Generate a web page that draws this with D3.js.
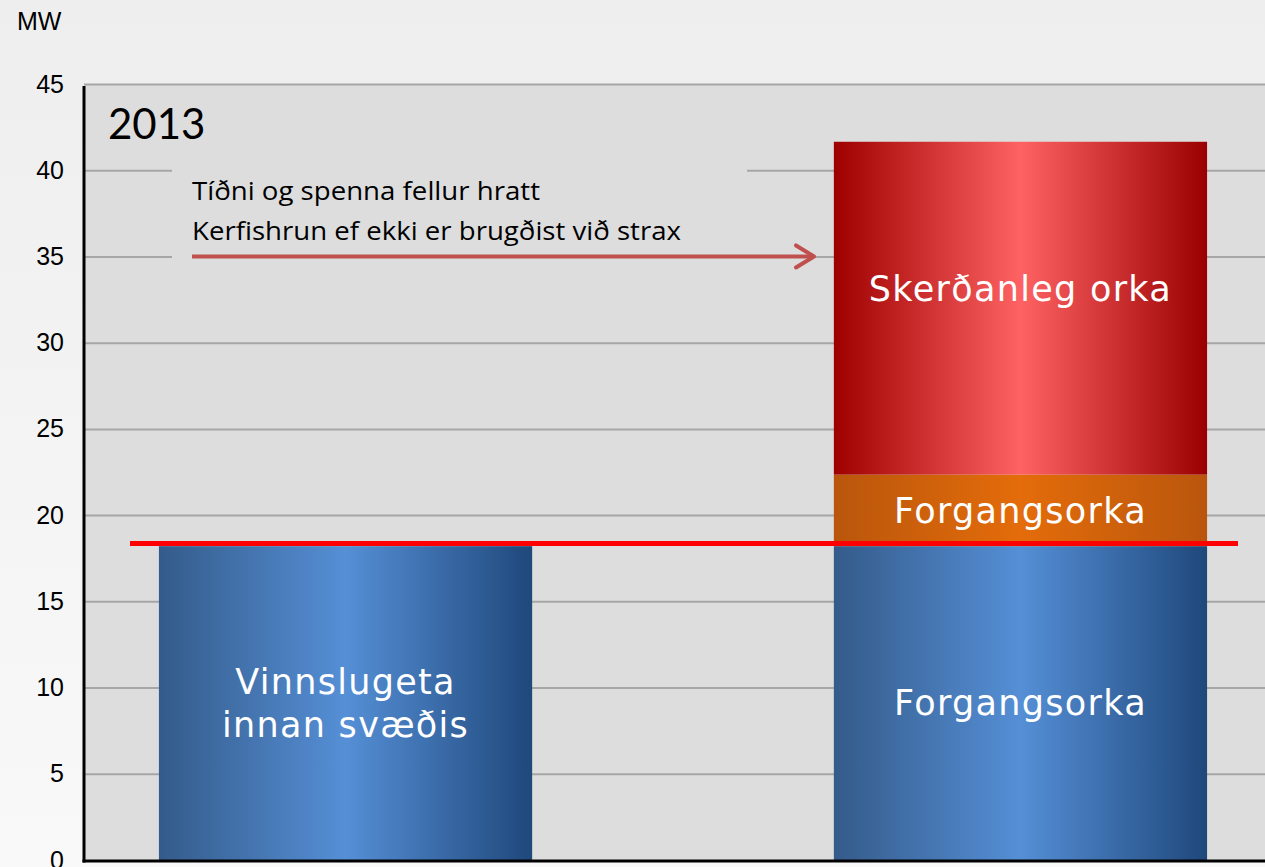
<!DOCTYPE html>
<html>
<head>
<meta charset="utf-8">
<script src="https://d3js.org/d3.v7.min.js"></script>
<style>
  body { margin: 0; overflow: hidden; }
</style>
</head>
<body>
<script>
// data
var categories = ["Vinnslugeta", "Álag"];
var yTicks = [0, 5, 10, 15, 20, 25, 30, 35, 40, 45];
var segCategory = ["Vinnslugeta", "Álag", "Álag", "Álag"];
var segValues = [18.2, 18.2, 4.15, 19.3];
var segLabels = [["Vinnslugeta", "innan svæðis"], ["Forgangsorka"], ["Forgangsorka"], ["Skerðanleg orka"]];
var segColors = ["blue", "blue", "orange", "red"];
var limitValue = 18.35;
var yearLabel = "2013";
var noteLines = ["Tíðni og spenna fellur hratt", "Kerfishrun ef ekki er brugðist við strax"];

var W = 1265, H = 867;
var margin = { top: 84, left: 84, bottom: 7 };

var svg = d3.select("body").append("svg").attr("width", W).attr("height", H);
var defs = svg.append("defs");

var bgGrad = defs.append("linearGradient").attr("id", "bg").attr("x1", 0).attr("y1", 0).attr("x2", 0).attr("y2", 1);
bgGrad.append("stop").attr("offset", "0%").attr("stop-color", "#eeeeee");
bgGrad.append("stop").attr("offset", "100%").attr("stop-color", "#f9f9f9");

var grads = {
  blue: ["#345b8a", "#558fd6", "#1f487b"],
  orange: ["#b9560c", "#e46c0a", "#b9560d"],
  red: ["#9e0000", "#ff6262", "#9b0000"]
};
Object.keys(grads).forEach(function (k) {
  var g = defs.append("linearGradient").attr("id", "g_" + k).attr("x1", 0).attr("x2", 1).attr("y1", 0).attr("y2", 0);
  g.append("stop").attr("offset", "0%").attr("stop-color", grads[k][0]);
  g.append("stop").attr("offset", "50%").attr("stop-color", grads[k][1]);
  g.append("stop").attr("offset", "100%").attr("stop-color", grads[k][2]);
});

svg.append("rect").attr("width", W).attr("height", H).attr("fill", "url(#bg)");

var y = d3.scaleLinear().domain([0, 45]).range([860, margin.top]);
var x = d3.scaleBand().domain(categories).range([margin.left, 1282])
  .paddingInner(0.447).paddingOuter(0.111);

// plot area
svg.append("rect").attr("x", margin.left).attr("y", y(45))
  .attr("width", W - margin.left).attr("height", y(0) - y(45)).attr("fill", "#dddddd");

// gridlines
var grid = svg.append("g").attr("transform", "translate(" + margin.left + ",0)")
  .call(d3.axisLeft(y).tickValues(yTicks.slice(1)).tickSize(-(W - margin.left)).tickFormat(""));
grid.select(".domain").remove();
grid.selectAll("line").attr("stroke", "#a6a6a6").attr("stroke-width", 2);

// tick labels
var ax = svg.append("g").attr("transform", "translate(" + margin.left + ",0)")
  .call(d3.axisLeft(y).tickValues(yTicks).tickSize(0).tickPadding(20));
ax.select(".domain").remove();
ax.selectAll("text").attr("font-family", "Liberation Sans, Arial, sans-serif")
  .attr("font-size", 25).attr("fill", "#000");

svg.append("text").attr("x", 17).attr("y", 30).text("MW")
  .attr("font-family", "Liberation Sans, Arial, sans-serif").attr("font-size", 25);

// annotation box hides the gridlines behind it
svg.append("rect").attr("x", 172).attr("y", 160).attr("width", 575).attr("height", 106).attr("fill", "#dddddd");

// stacked bars
var stackBase = {};
var segs = segValues.map(function (v, i) {
  var c = segCategory[i];
  var b = stackBase[c] || 0;
  stackBase[c] = b + v;
  return { cat: c, y0: b, y1: b + v, label: segLabels[i], color: segColors[i] };
});

svg.selectAll("rect.bar").data(segs).enter().append("rect").attr("class", "bar")
  .attr("x", function (d) { return x(d.cat); })
  .attr("width", x.bandwidth())
  .attr("y", function (d) { return y(d.y1); })
  .attr("height", function (d) { return y(d.y0) - y(d.y1); })
  .attr("fill", function (d) { return "url(#g_" + d.color + ")"; });

var labs = svg.selectAll("text.seg").data(segs).enter().append("text").attr("class", "seg")
  .attr("text-anchor", "middle")
  .attr("font-family", "DejaVu Sans, Verdana, sans-serif")
  .attr("font-size", 35).attr("fill", "#ffffff").attr("letter-spacing", 1.3)
  .attr("transform", function (d) {
    var cy = (y(d.y0) + y(d.y1)) / 2;
    if (d.color === "red") cy -= 19;
    cy -= (d.label.length - 1) * 21.5;
    return "translate(" + (x(d.cat) + x.bandwidth() / 2) + "," + cy + ")";
  });
labs.selectAll("tspan").data(function (d) { return d.label; }).enter().append("tspan")
  .attr("x", 0).attr("dy", function (d, i) { return i === 0 ? "0.35em" : 43; })
  .text(function (d) { return d; });

// limit line
svg.append("line").attr("x1", 130).attr("x2", 1238)
  .attr("y1", y(limitValue)).attr("y2", y(limitValue))
  .attr("stroke", "#ff0000").attr("stroke-width", 5);

// axes lines
svg.append("line").attr("x1", margin.left).attr("x2", margin.left).attr("y1", y(45) + 2).attr("y2", y(0) + 2.5)
  .attr("stroke", "#000").attr("stroke-width", 3);
svg.append("line").attr("x1", margin.left - 1.5).attr("x2", W).attr("y1", y(0) + 1).attr("y2", y(0) + 1)
  .attr("stroke", "#000").attr("stroke-width", 3);

// year label
svg.append("text").attr("x", 108).attr("y", 139).text(yearLabel)
  .attr("font-family", "Lato, Open Sans, sans-serif").attr("font-size", 42).attr("fill", "#000");

// note
svg.selectAll("text.note").data(noteLines).enter().append("text").attr("class", "note")
  .attr("x", 192).attr("y", function (d, i) { return 200 + i * 40; })
  .attr("font-family", "Open Sans, Lato, sans-serif").attr("font-size", 25).attr("fill", "#000")
  .attr("textLength", function (d, i) { return i === 0 ? 348 : 489; })
  .attr("lengthAdjust", "spacingAndGlyphs")
  .text(function (d) { return d; });

// arrow
var ay = y(35);
svg.append("line").attr("x1", 192).attr("x2", 813).attr("y1", ay).attr("y2", ay)
  .attr("stroke", "#c0504d").attr("stroke-width", 4);
svg.append("path").attr("d", "M796," + (ay - 11) + "L814," + ay + "L796," + (ay + 11))
  .attr("fill", "none").attr("stroke", "#c0504d").attr("stroke-width", 4)
  .attr("stroke-linecap", "round").attr("stroke-linejoin", "round");
</script>
</body>
</html>
